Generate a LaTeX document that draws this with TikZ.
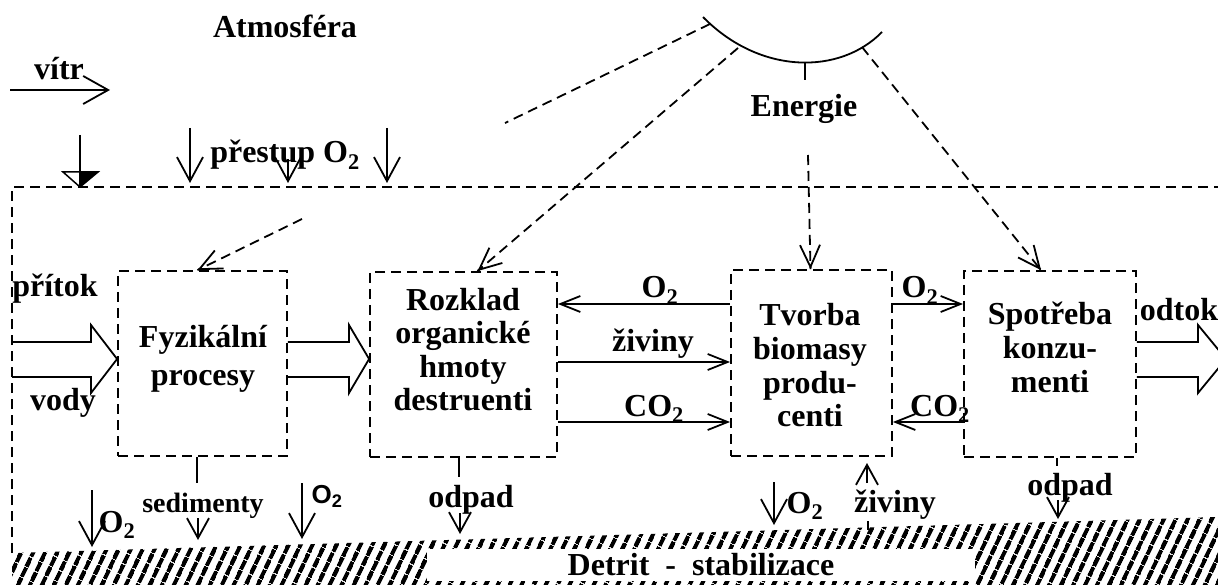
\documentclass[tikz,border=0pt]{standalone}
\usepackage{fontspec}
\setmainfont{Liberation Serif}
\newfontfamily\arialfont{Liberation Sans}
\usetikzlibrary{arrows.meta,patterns.meta,calc}
\begin{document}
\begin{tikzpicture}[x=1pt,y=-1pt,line width=1.8pt,
  dsh/.style={dash pattern=on 10pt off 6pt},
  box/.style={draw,dsh,inner sep=0pt},
  txt/.style={font=\fontsize{32}{34}\selectfont\bfseries,inner sep=0pt,anchor=base},
  arV/.style={-{Straight Barb[length=24pt,width=26pt]}},
  arS/.style={-{Straight Barb[length=20pt,width=22pt]}},
  arH/.style={-{Straight Barb[length=20pt,width=16pt]}},
  arDh/.style={solid,-{Straight Barb[length=22pt,width=20pt]}}]
\useasboundingbox (0,0) rectangle (1218,585);

% sediment / detritus layer
\fill[pattern={Lines[angle=65,distance=10.5pt,line width=4.5pt]}] (12,553) -- (1218,517) -- (1218,585) -- (12,585) -- cycle;
\node[fill=white,minimum width=548pt,minimum height=32pt,inner sep=0pt,font=\fontsize{32}{34}\selectfont\bfseries] (det) at (701,565) {Detrit\ \ -\ \ stabilizace};

% outer system boundary
\coordinate (oL) at (12,553);
\coordinate (oTL) at (12,187);
\coordinate (oTR) at (1218,187);
\draw[dsh] (oL) -- (oTL) -- (oTR);

% atmosphere
\node[txt] (atm) at (285,38) {Atmosféra};
\node[txt] (vitr) at (59,80) {vítr};
\coordinate (w0) at (10,90);
\coordinate (w1) at (110,90);
\draw[-{Straight Barb[length=25pt,width=28pt]}] (w0) -- (w1);

% water level symbol
\coordinate (wl) at (80,187);
\coordinate (wlt) at (80,135);
\draw (wlt) -- (wl);
\draw[line width=1.5pt] (63,172) -- (98,172) -- (wl) -- cycle;
\fill (80,172) -- (98,172) -- (wl) -- cycle;

% oxygen transfer
\node[txt] (pre) at (285,163) {přestup O\textsubscript{2}};
\coordinate (p1a) at (190,128); \coordinate (p1b) at (190,183);
\coordinate (p2a) at (288,159); \coordinate (p2b) at (288,183);
\coordinate (p3a) at (387,128); \coordinate (p3b) at (387,183);
\draw[arV] (p1a) -- (p1b);
\draw[arV] (p2a) -- (p2b);
\draw[arV] (p3a) -- (p3b);

% energy (sun)
\coordinate (sunA) at (703,17);
\coordinate (sunB) at (882,32);
\draw (sunA) .. controls (760,75) and (840,75) .. (sunB);
\coordinate (sunT1) at (805,63);
\coordinate (sunT2) at (805,80);
\draw (sunT1) -- (sunT2);
\node[txt] (ene) at (804,117) {Energie};

% process boxes
\node[box,minimum width=169pt,minimum height=185pt] (fyz) at (202.5,363.5) {};
\node[box,minimum width=187pt,minimum height=185pt] (roz) at (463.5,364.5) {};
\node[box,minimum width=161pt,minimum height=186pt] (tvo) at (811.5,363) {};
\node[box,minimum width=172pt,minimum height=186pt] (spo) at (1050,364) {};

\node[txt,font=\fontsize{32}{37}\selectfont\bfseries] (fyzt) at (203,348) {\begin{tabular}[t]{@{}c@{}}Fyzikální\\procesy\end{tabular}};
\node[txt,font=\fontsize{32}{33.5}\selectfont\bfseries] (rozt) at (463,310) {\begin{tabular}[t]{@{}c@{}}Rozklad\\organické\\hmoty\\destruenti\end{tabular}};
\node[txt,font=\fontsize{32}{33.5}\selectfont\bfseries] (tvot) at (810,326) {\begin{tabular}[t]{@{}c@{}}Tvorba\\biomasy\\produ-\\centi\end{tabular}};
\node[txt,font=\fontsize{32}{34}\selectfont\bfseries] (spot) at (1050,324) {\begin{tabular}[t]{@{}c@{}}Spotřeba\\konzu-\\menti\end{tabular}};

% energy flows (dashed)
\coordinate (s1) at (710,24);
\coordinate (e1) at (505,123);
\draw[dsh] (s1) -- (e1);
\coordinate (e2) at (302,219);
\coordinate (h1) at ([xshift=-5pt]fyz.north);
\draw[dsh] (e2) -- (h1);
\draw[arDh] ($(h1)!1pt!(e2)$) -- (h1);
\coordinate (s2) at (738,48);
\coordinate (h2) at ([xshift=14pt]roz.north);
\draw[dsh] (s2) -- (h2);
\draw[arDh] ($(h2)!1pt!(s2)$) -- (h2);
\coordinate (en) at (808,155);
\coordinate (h3) at ([xshift=-1pt]tvo.north);
\draw[dsh] (en) -- (h3);
\draw[arDh] ($(h3)!1pt!(en)$) -- (h3);
\coordinate (s3) at (862,47);
\coordinate (h4) at ([xshift=-9pt]spo.north);
\draw[dsh] (s3) -- (h4);
\draw[arDh] ($(h4)!1pt!(s3)$) -- (h4);

% water inflow / outflow (block arrows)
\coordinate (in0) at (12,342);
\coordinate (in1) at (12,377);
\draw (in0) -- (91,342) -- (91,325) -- (fyz.west |- 0,359) -- (91,393) -- (91,377) -- (in1);
\draw (fyz.east |- 0,342) -- (349,342) -- (349,325) -- (roz.west |- 0,359) -- (349,393) -- (349,377) -- (fyz.east |- 0,377);
\coordinate (otip) at (1226,359);
\draw (spo.east |- 0,342) -- (1198,342) -- (1198,325) -- (otip) -- (1198,393) -- (1198,377) -- (spo.east |- 0,377);
\node[txt] (prit) at (55,297) {přítok};
\node[txt] (vody) at (63,410) {vody};
\node[txt] (odt) at (1179,320) {odtok};

% exchanges between boxes
\draw[arH] (tvo.west |- 0,304) -- (roz.east |- 0,304);
\draw[arH] (roz.east |- 0,362) -- (tvo.west |- 0,362);
\draw[arH] (roz.east |- 0,422) -- (tvo.west |- 0,422);
\draw[arH] (tvo.east |- 0,304) -- (spo.west |- 0,304);
\draw[arH] (spo.west |- 0,422) -- (tvo.east |- 0,422);
\node[txt] (o2a) at (660,298) {O\textsubscript{2}};
\node[txt] (ziva) at (653,352) {živiny};
\node[txt] (co2a) at (654,416) {CO\textsubscript{2}};
\node[txt] (o2b) at (920,298) {O\textsubscript{2}};
\node[txt] (co2b) at (940,416) {CO\textsubscript{2}};

% bottom flows
\coordinate (b1a) at (92,490); \coordinate (b1b) at (92,547);
\draw[arV] (b1a) -- (b1b);
\node[txt] (o2c) at (117,532) {O\textsubscript{2}};

\coordinate (sedt) at (197,483);
\draw (fyz.south -| 197,0) -- (sedt);
\coordinate (b2a) at (198,518); \coordinate (b2b) at (198,540);
\draw[arS] (b2a) -- (b2b);
\node[txt,font=\fontsize{28}{30}\selectfont\bfseries] (sed) at (203,512) {sedimenty};

\coordinate (b3a) at (302,483); \coordinate (b3b) at (302,539);
\draw[arV] (b3a) -- (b3b);
\node[txt,font=\arialfont\fontsize{26}{28}\selectfont\bfseries] (o2d) at (327,503) {O\textsubscript{2}};

\coordinate (odt1) at (459,477);
\draw (roz.south -| 459,0) -- (odt1);
\coordinate (b4a) at (460,513); \coordinate (b4b) at (460,534);
\draw[arS] (b4a) -- (b4b);
\node[txt] (odp1) at (471,507) {odpad};

\coordinate (b5a) at (774,482); \coordinate (b5b) at (774,525);
\draw[arV] (b5a) -- (b5b);
\node[txt] (o2e) at (805,513) {O\textsubscript{2}};

\coordinate (b6a) at (867,483); \coordinate (b6b) at (867,463);
\draw[arS] (b6a) -- (b6b);
\coordinate (b6c) at (868,521); \coordinate (b6d) at (868,530);
\draw (b6c) -- (b6d);
\node[txt] (zivb) at (895,512) {živiny};

\coordinate (odt2) at (1057,466);
\draw (spo.south -| 1057,0) -- (odt2);
\coordinate (b7a) at (1058,500); \coordinate (b7b) at (1058,519);
\draw[arS] (b7a) -- (b7b);
\node[txt] (odp2) at (1070,495) {odpad};
\end{tikzpicture}
\end{document}
